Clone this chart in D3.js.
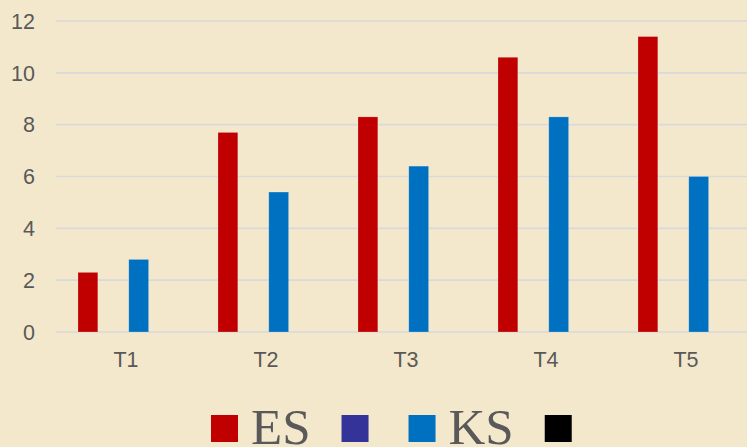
<!DOCTYPE html>
<html>
<head>
<meta charset="utf-8">
<script src="https://cdn.jsdelivr.net/npm/d3@7"></script>
<style>
  html, body { margin: 0; padding: 0; background: #F3E8CB; }
  svg { display: block; }
</style>
</head>
<body>
<div id="chart"></div>
<script>
// categories and series
const categories = ["T1", "T2", "T3", "T4", "T5"];
const seriesNames = ["ES", "", "KS", ""];
const seriesColors = ["#C00000", "#333399", "#0070C0", "#000000"];
const esValues = [2.3, 7.7, 8.3, 10.6, 11.4];
const blankValues1 = [0, 0, 0, 0, 0];
const ksValues = [2.8, 5.4, 6.4, 8.3, 6.0];
const blankValues2 = [0, 0, 0, 0, 0];
const yTicks = [0, 2, 4, 6, 8, 10, 12];

const seriesValues = [esValues, blankValues1, ksValues, blankValues2];

const width = 747, height = 447;
const margin = { top: 21, left: 56 };

const svg = d3.select("#chart").append("svg")
  .attr("width", width)
  .attr("height", height);

svg.append("rect").attr("width", width).attr("height", height).attr("fill", "#F3E8CB");

// plot area runs a little past the right edge (clipped in the original)
const x = d3.scaleBand().domain(categories).range([margin.left, 756]);
const inner = d3.scaleBand().domain(d3.range(seriesNames.length))
  .range([0, x.bandwidth()])
  .paddingInner(0.22)
  .paddingOuter(0.866);
const y = d3.scaleLinear().domain([0, 12]).range([332, margin.top]);

// gridlines
svg.append("g")
  .selectAll("line")
  .data(yTicks)
  .join("line")
  .attr("x1", margin.left)
  .attr("x2", width)
  .attr("y1", d => y(d))
  .attr("y2", d => y(d))
  .attr("stroke", "#D9D9D9")
  .attr("stroke-width", 1.6);

// y tick labels
svg.append("g")
  .selectAll("text")
  .data(yTicks)
  .join("text")
  .attr("x", 35)
  .attr("y", d => y(d))
  .attr("dy", "0.36em")
  .attr("text-anchor", "end")
  .attr("font-family", "Liberation Sans, Arial, sans-serif")
  .attr("font-size", 21.5)
  .attr("fill", "#595959")
  .text(d => d);

// bars
const bars = [];
seriesValues.forEach((vals, s) => {
  vals.forEach((v, i) => bars.push({ s, cat: categories[i], v }));
});

svg.append("g")
  .selectAll("rect")
  .data(bars.filter(b => b.v > 0))
  .join("rect")
  .attr("x", b => x(b.cat) + inner(b.s))
  .attr("y", b => y(b.v))
  .attr("width", inner.bandwidth())
  .attr("height", b => y(0) - y(b.v))
  .attr("fill", b => seriesColors[b.s])
  .attr("stroke", "rgba(255,255,255,0.25)")
  .attr("stroke-width", 0.8);

// x labels
svg.append("g")
  .selectAll("text")
  .data(categories)
  .join("text")
  .attr("x", d => x(d) + x.bandwidth() / 2)
  .attr("y", 367)
  .attr("text-anchor", "middle")
  .attr("font-family", "Liberation Sans, Arial, sans-serif")
  .attr("font-size", 21.5)
  .attr("fill", "#595959")
  .text(d => d);

// legend
const legend = svg.append("g");
let lx = 211;
seriesNames.forEach((name, s) => {
  legend.append("rect")
    .attr("x", lx).attr("y", 415)
    .attr("width", 27).attr("height", 27)
    .attr("fill", seriesColors[s]);
  lx += 27 + 13;
  const t = legend.append("text")
    .attr("x", lx).attr("y", 444)
    .attr("font-family", "Liberation Serif, Times New Roman, serif")
    .attr("font-size", 51)
    .attr("fill", "#595959")
    .text(name);
  lx += (name ? t.node().getComputedTextLength() : 0) + (name ? 31 : 27);
});
</script>
</body>
</html>
